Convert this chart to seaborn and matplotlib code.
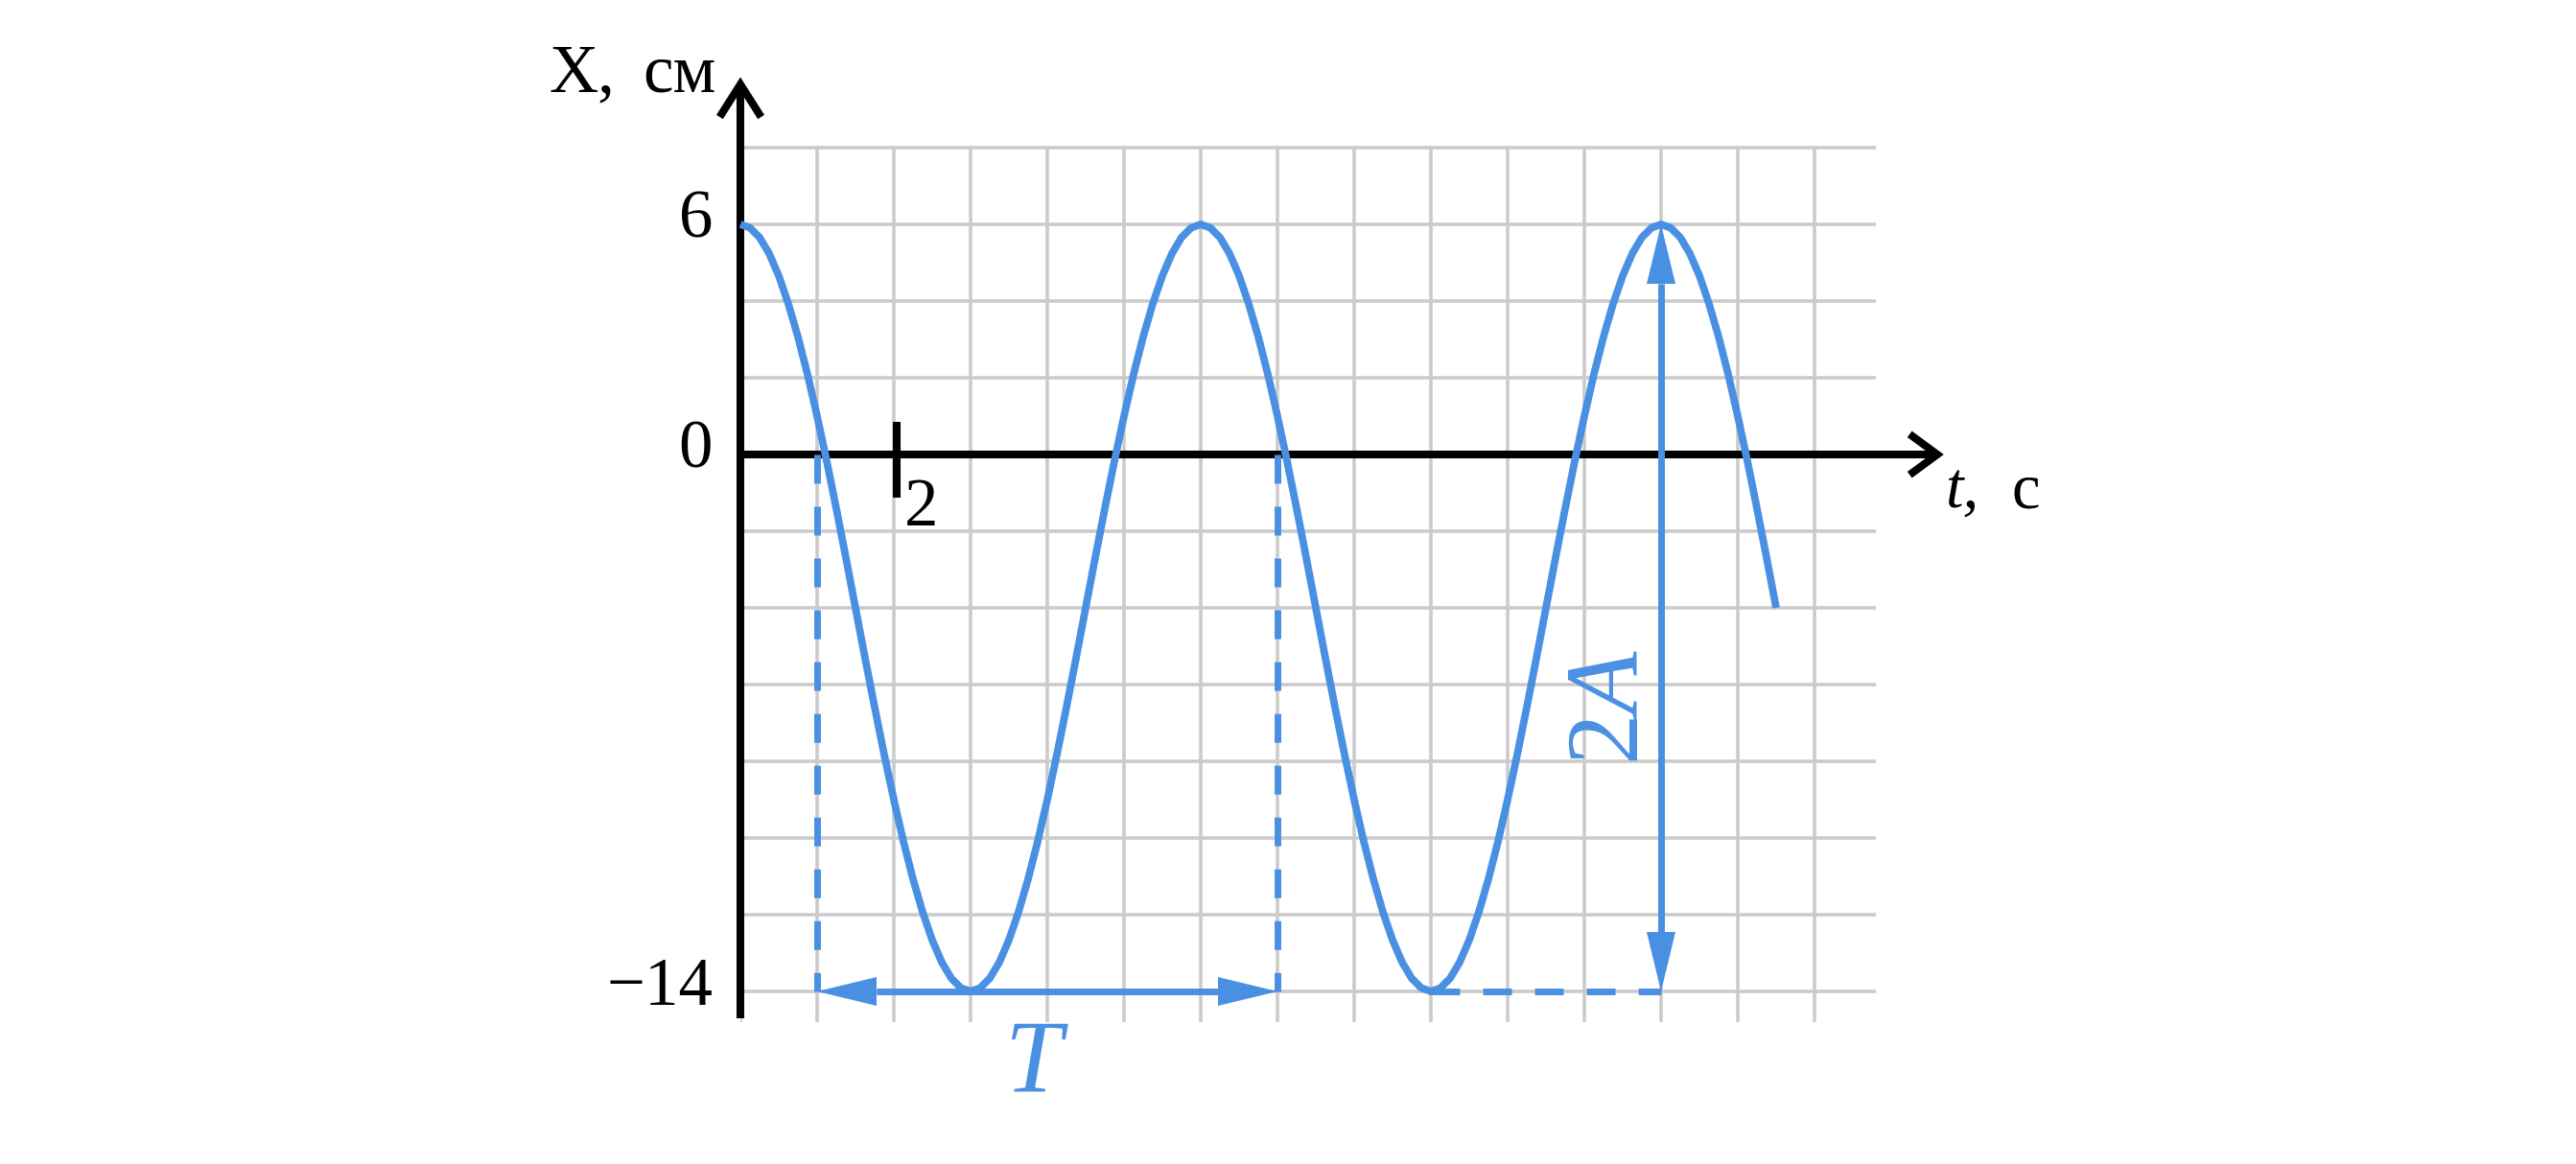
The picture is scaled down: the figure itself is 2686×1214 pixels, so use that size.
import numpy as np
import pandas as pd
import matplotlib
matplotlib.use("Agg")
import matplotlib.pyplot as plt
import seaborn as sns

# ---------------- data ----------------
t_values = [0.0, 0.125, 0.25, 0.375, 0.5, 0.625, 0.75, 0.875, 1.0, 1.125, 1.25, 1.375,
            1.5, 1.625, 1.75, 1.875, 2.0, 2.125, 2.25, 2.375, 2.5, 2.625, 2.75, 2.875,
            3.0, 3.125, 3.25, 3.375, 3.5, 3.625, 3.75, 3.875, 4.0, 4.125, 4.25, 4.375,
            4.5, 4.625, 4.75, 4.875, 5.0, 5.125, 5.25, 5.375, 5.5, 5.625, 5.75, 5.875,
            6.0, 6.125, 6.25, 6.375, 6.5, 6.625, 6.75, 6.875, 7.0, 7.125, 7.25, 7.375,
            7.5, 7.625, 7.75, 7.875, 8.0, 8.125, 8.25, 8.375, 8.5, 8.625, 8.75, 8.875,
            9.0, 9.125, 9.25, 9.375, 9.5, 9.625, 9.75, 9.875, 10.0, 10.125, 10.25, 10.375,
            10.5, 10.625, 10.75, 10.875, 11.0, 11.125, 11.25, 11.375, 11.5, 11.625, 11.75, 11.875,
            12.0, 12.125, 12.25, 12.375, 12.5, 12.625, 12.75, 12.875, 13.0, 13.125, 13.25, 13.375,
            13.5]
x_values = [6.0, 5.91, 5.66, 5.24, 4.66, 3.93, 3.07, 2.09, 1.0, -0.17, -1.41, -2.69,
            -4.0, -5.31, -6.59, -7.83, -9.0, -10.09, -11.07, -11.93, -12.66, -13.24, -13.66, -13.91,
            -14.0, -13.91, -13.66, -13.24, -12.66, -11.93, -11.07, -10.09, -9.0, -7.83, -6.59, -5.31,
            -4.0, -2.69, -1.41, -0.17, 1.0, 2.09, 3.07, 3.93, 4.66, 5.24, 5.66, 5.91,
            6.0, 5.91, 5.66, 5.24, 4.66, 3.93, 3.07, 2.09, 1.0, -0.17, -1.41, -2.69,
            -4.0, -5.31, -6.59, -7.83, -9.0, -10.09, -11.07, -11.93, -12.66, -13.24, -13.66, -13.91,
            -14.0, -13.91, -13.66, -13.24, -12.66, -11.93, -11.07, -10.09, -9.0, -7.83, -6.59, -5.31,
            -4.0, -2.69, -1.41, -0.17, 1.0, 2.09, 3.07, 3.93, 4.66, 5.24, 5.66, 5.91,
            6.0, 5.91, 5.66, 5.24, 4.66, 3.93, 3.07, 2.09, 1.0, -0.17, -1.41, -2.69,
            -4.0]

grid_t = list(range(0, 15))              # vertical grid lines, 1 s each
grid_x = list(range(-14, 9, 2))          # horizontal grid lines, 2 cm each
y_tick_values = [6, 0, -14]
y_tick_labels = ["6", "0", "\u221214"]
x_tick_value = 2
x_tick_label = "2"

period_start = 1.0      # left dashed line
period_end = 7.0        # right dashed line
x_min_value = -14.0
x_max_value = 6.0
min_time = 9.0          # minimum used for the 2A dashed guide
max_time = 12.0         # maximum used for the 2A arrow

y_axis_label = ["X,", "см"]
x_axis_label = ["t,", "c"]
period_label = "$T$"
amp_label = "$2A$"

# ---------------- style ----------------
BLUE = "#4A90E2"
GRID = "#CBCBCB"
BLACK = "#000000"

sns.set_theme(style="white")
plt.rcParams["font.family"] = ["Liberation Serif", "DejaVu Serif"]
plt.rcParams["mathtext.fontset"] = "custom"
plt.rcParams["mathtext.rm"] = "Liberation Serif"
plt.rcParams["mathtext.it"] = "Liberation Serif:italic"

W, H = 2686, 1214
fig = plt.figure(figsize=(W / 100, H / 100), dpi=100)
fig.patch.set_facecolor("white")

# axes covers the grid region: 80 px per second, 40 px per cm
x_lo, x_hi = 0.0, 14.8
y_lo, y_hi = -14.8, 8.05
left_px = 772
ax = fig.add_axes([left_px / W, (H - (474 - y_lo * 40)) / H,
                   (x_hi - x_lo) * 80 / W, (y_hi - y_lo) * 40 / H])
ax.set_xlim(x_lo, x_hi)
ax.set_ylim(y_lo, y_hi)
ax.set_facecolor("none")
for s in ax.spines.values():
    s.set_visible(False)
ax.set_xticks(grid_t)
ax.set_yticks(grid_x)
ax.tick_params(length=0, labelbottom=False, labelleft=False)
ax.grid(True, color=GRID, linewidth=2.6)
ax.set_axisbelow(True)

# ---------------- axes with arrows ----------------
AX_LW = 5.8
ax.plot([0, 15.6], [0, 0], color=BLACK, lw=AX_LW, solid_capstyle="butt", clip_on=False, zorder=3)
ax.plot([15.24, 15.6, 15.24], [0.53, 0, -0.53], color=BLACK, lw=AX_LW,
        solid_capstyle="butt", solid_joinstyle="miter", clip_on=False, zorder=3)
ax.plot([0, 0], [-14.7, 9.65], color=BLACK, lw=AX_LW, solid_capstyle="butt", clip_on=False, zorder=3)
ax.plot([-0.27, 0, 0.27], [8.8, 9.65, 8.8], color=BLACK, lw=AX_LW,
        solid_capstyle="butt", solid_joinstyle="miter", clip_on=False, zorder=3)

# tick mark at t = 2
ax.plot([x_tick_value + 0.04] * 2, [0.85, -1.12], color=BLACK, lw=AX_LW,
        solid_capstyle="butt", clip_on=False, zorder=3)
ax.text(x_tick_value + 0.14, -1.85, x_tick_label, fontsize=51, ha="left", va="baseline", color=BLACK)

for v, lab in zip(y_tick_values, y_tick_labels):
    ax.text(-0.36, v - 0.35, lab, fontsize=51, ha="right", va="baseline", color=BLACK)

# axis labels
ax.text(-2.5, 9.475, y_axis_label[0], fontsize=51, ha="left", va="baseline", color=BLACK)
ax.text(-1.275, 9.475, y_axis_label[1], fontsize=51, ha="left", va="baseline", color=BLACK)
ax.text(15.7, -1.375, x_axis_label[0], fontsize=48, style="italic", ha="left", va="baseline", color=BLACK)
ax.text(16.575, -1.375, x_axis_label[1], fontsize=48, ha="left", va="baseline", color=BLACK)

# ---------------- the oscillation curve ----------------
df = pd.DataFrame({"t": t_values, "x": x_values})
sns.lineplot(data=df, x="t", y="x", ax=ax, color=BLUE, linewidth=5.6,
             solid_joinstyle="round", solid_capstyle="butt", zorder=4, clip_on=False)
ax.set_xlabel("")
ax.set_ylabel("")

# ---------------- dashed guides ----------------
DLW = 5.0
dash = (0, (4.32, 3.46))
for tt in (period_start, period_end):
    ax.plot([tt, tt], [0, x_min_value], color=BLUE, lw=DLW, linestyle=dash,
            dash_capstyle="butt", clip_on=False, zorder=3.5)
ax.plot([min_time, max_time], [x_min_value, x_min_value], color=BLUE, lw=DLW, linestyle=dash,
        dash_capstyle="butt", clip_on=False, zorder=3.5)

# ---------------- period arrow T ----------------
hl_x, hw_y = 0.775, 0.375   # head length (s), half width (cm)
ax.plot([period_start + hl_x, period_end - hl_x], [x_min_value] * 2, color=BLUE, lw=DLW,
        solid_capstyle="butt", clip_on=False, zorder=5)
ax.fill([period_start, period_start + hl_x, period_start + hl_x],
        [x_min_value, x_min_value + hw_y, x_min_value - hw_y], color=BLUE, lw=0, zorder=5, clip_on=False)
ax.fill([period_end, period_end - hl_x, period_end - hl_x],
        [x_min_value, x_min_value + hw_y, x_min_value - hw_y], color=BLUE, lw=0, zorder=5, clip_on=False)
ax.text((period_start + period_end) / 2 - 0.14, -16.6, period_label, fontsize=77,
        ha="center", va="baseline", color=BLUE)

# ---------------- amplitude arrow 2A ----------------
hl_y, hw_x = 1.55, 0.1875
ax.plot([max_time] * 2, [x_min_value + hl_y, x_max_value - hl_y], color=BLUE, lw=DLW,
        solid_capstyle="butt", clip_on=False, zorder=5)
ax.fill([max_time, max_time - hw_x, max_time + hw_x],
        [x_max_value, x_max_value - hl_y, x_max_value - hl_y], color=BLUE, lw=0, zorder=5, clip_on=False)
ax.fill([max_time, max_time - hw_x, max_time + hw_x],
        [x_min_value, x_min_value + hl_y, x_min_value + hl_y], color=BLUE, lw=0, zorder=5, clip_on=False)
ax.text(max_time - 0.3, -6.59, amp_label, fontsize=77, rotation=90, rotation_mode="anchor",
        ha="center", va="baseline", color=BLUE)

fig.savefig("out.png", dpi=100, facecolor="white")
